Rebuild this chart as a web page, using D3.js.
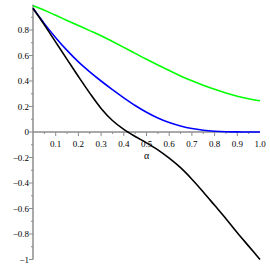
<!DOCTYPE html>
<html>
<head>
<meta charset="UTF-8">
<title>alpha plot</title>
<script src="https://cdn.jsdelivr.net/npm/d3@7"></script>
<style>
  body { margin: 0; background: #fff; }
  text { font-family: "Liberation Serif", "DejaVu Serif", serif; font-size: 9px; fill: #000; }
</style>
</head>
<body>
<script>
// values
var alphas = [0, 0.05, 0.1, 0.15, 0.2, 0.25, 0.3, 0.35, 0.4, 0.45, 0.5,
              0.55, 0.6, 0.65, 0.7, 0.75, 0.8, 0.85, 0.9, 0.95, 1.0];
var green = [0.99, 0.955, 0.915, 0.875, 0.835, 0.795, 0.755, 0.71, 0.664, 0.617, 0.57,
             0.525, 0.482, 0.44, 0.402, 0.367, 0.335, 0.306, 0.281, 0.261, 0.245];
var blue = [0.97, 0.85, 0.74, 0.64, 0.55, 0.472, 0.40, 0.332, 0.268, 0.208, 0.155,
            0.11, 0.074, 0.047, 0.027, 0.014, 0.006, 0.002, 0.001, 0, 0];
var black = [0.97, 0.84, 0.705, 0.57, 0.435, 0.305, 0.185, 0.09, 0.02, -0.035, -0.085,
             -0.14, -0.205, -0.28, -0.37, -0.47, -0.575, -0.68, -0.79, -0.895, -1.0];
var xTicks = [0.1, 0.2, 0.3, 0.4, 0.5, 0.6, 0.7, 0.8, 0.9, 1.0];
var yTicks = [0.8, 0.6, 0.4, 0.2, 0, -0.2, -0.4, -0.6, -0.8, -1];

var w = 270, h = 270;
var x = d3.scaleLinear().domain([0, 1]).range([33, 260]);
var y = d3.scaleLinear().domain([-1, 1]).range([259.5, 4.5]);

var svg = d3.select("body").append("svg")
    .attr("width", w)
    .attr("height", h);

var axisCol = "#8c8c8c";

// x axis along y = 0
var gx = svg.append("g").attr("transform", "translate(0," + y(0) + ")");
gx.append("line")
    .attr("x1", x(0)).attr("x2", x(1))
    .attr("stroke", axisCol).attr("stroke-width", 1.5);
gx.selectAll(".minor")
    .data(d3.range(1, 20).map(function(i) { return i / 20; }))
    .enter().append("line")
    .attr("x1", function(d) { return x(d); })
    .attr("x2", function(d) { return x(d); })
    .attr("y1", 0)
    .attr("y2", function(d, i) { return i % 2 == 1 ? 4 : 2; })
    .attr("stroke", axisCol).attr("stroke-width", 1);
gx.selectAll("text")
    .data(xTicks)
    .enter().append("text")
    .attr("x", function(d) { return x(d); })
    .attr("y", 15)
    .attr("text-anchor", "middle")
    .text(function(d) { return d3.format(".1f")(d); });

// y axis along x = 0
var gy = svg.append("g").attr("transform", "translate(" + x(0) + ",0)");
gy.append("line")
    .attr("y1", y(1)).attr("y2", y(-1))
    .attr("stroke", axisCol).attr("stroke-width", 1.5);
gy.selectAll(".minor")
    .data(d3.range(-10, 10).map(function(i) { return i / 10; }))
    .enter().append("line")
    .attr("y1", function(d) { return y(d); })
    .attr("y2", function(d) { return y(d); })
    .attr("x1", 0)
    .attr("x2", function(d) { return Math.round(d * 10) % 2 == 0 ? -4 : -2; })
    .attr("stroke", axisCol).attr("stroke-width", 1);
gy.selectAll("text")
    .data(yTicks)
    .enter().append("text")
    .attr("x", -4)
    .attr("y", function(d) { return y(d) + 3; })
    .attr("text-anchor", "end")
    .text(function(d) { return d == 0 ? "0" : (d < 0 ? "\u2212" : "") + d3.format("")(Math.abs(d)); });

svg.append("text")
    .attr("x", x(0.5))
    .attr("y", y(0) + 27)
    .attr("text-anchor", "middle")
    .style("font-size", "10px")
    .text("\u03b1");

// curves
var line = d3.line()
    .x(function(d) { return x(d[0]); })
    .y(function(d) { return y(d[1]); })
    .curve(d3.curveCatmullRom.alpha(0.5));

[[green, "#00ff00"], [blue, "#0000ff"], [black, "#000000"]].forEach(function(s) {
  svg.append("path")
      .datum(alphas.map(function(a, i) { return [a, s[0][i]]; }))
      .attr("fill", "none")
      .attr("stroke", s[1])
      .attr("stroke-width", 1.6)
      .attr("d", line);
});
</script>
</body>
</html>
